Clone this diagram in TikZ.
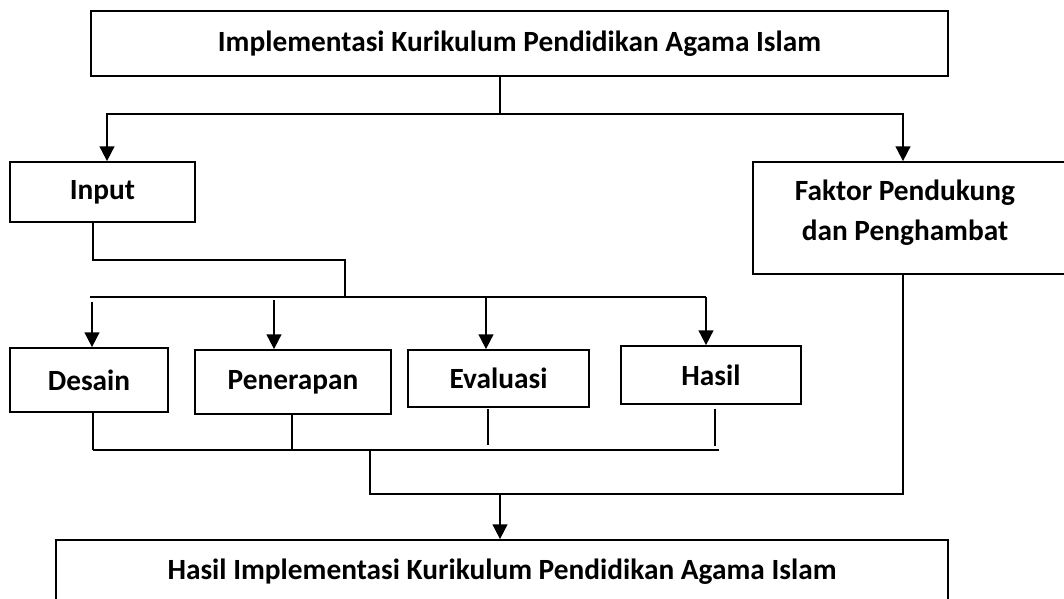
\documentclass[tikz,border=0pt]{standalone}
\usepackage{fontspec}
\setmainfont{Carlito}
\usetikzlibrary{arrows.meta,calc}
\begin{document}
\begin{tikzpicture}[x=0.75pt,y=-0.75pt,
  box/.style={draw,line width=1.3pt,inner sep=0pt,align=center,
    font=\fontsize{22}{30}\selectfont\bfseries},
  ln/.style={line width=1.3pt},
  arr/.style={ln,-{Triangle[width=11pt,length=11pt]}}]
\useasboundingbox (0,0) rectangle (1064,599);
\begin{scope}
\clip (0,0) rectangle (1064,599);
% boxes
\node[box,minimum width=642.75pt,minimum height=48.75pt] (top) at (519.5,43.5) {Implementasi Kurikulum Pendidikan Agama Islam};
\node[box,minimum width=138.75pt,minimum height=45pt] (input) at (102.5,192) {Input};
\node[box,minimum width=237pt,minimum height=84pt,text depth=12pt] (faktor) at (911,218) {Faktor Pendukung\hspace*{9pt}\\dan Penghambat\hspace*{9pt}};
\node[box,minimum width=118.5pt,minimum height=48pt] (desain) at (89,380) {Desain};
\node[box,minimum width=147pt,minimum height=48pt] (penerapan) at (293,382) {Penerapan};
\node[box,minimum width=135.75pt,minimum height=42.75pt] (evaluasi) at (498.5,378.5) {Evaluasi};
\node[box,minimum width=135pt,minimum height=43.5pt] (hasil) at (711,375) {Hasil};
\node[box,minimum width=669pt,minimum height=48pt] (bottom) at (502,572) {Hasil Implementasi Kurikulum Pendidikan Agama Islam};
% helper coordinates
\coordinate (j1) at (500,114);
\coordinate (c107) at (107,0);
\coordinate (c903) at (903,0);
\coordinate (c93) at (93,0);
\coordinate (j2) at (345,260);
\coordinate (b1L) at (90,297);
\coordinate (b1R) at (706,297);
\coordinate (a1) at (92,302);
\coordinate (a2) at (274,300);
\coordinate (a3) at (486,297);
\coordinate (e1) at (93,450);
\coordinate (e2) at (292,450);
\coordinate (e3) at (488,445);
\coordinate (e4) at (715,446);
\coordinate (e5) at (719,450);
\coordinate (j3) at (370,494);
% connectors
\draw[ln] (top.south -| j1) -- (j1);
\draw[arr] (j1) -| (input.north -| c107);
\draw[arr] (j1) -| (faktor.north -| c903);
\draw[ln] (input.south -| c93) |- (j2) -- (j2 |- b1L);
\draw[ln] (b1L) -- (b1R);
\draw[arr] (a1) -- (desain.north -| a1);
\draw[arr] (a2) -- (penerapan.north -| a2);
\draw[arr] (a3) -- (evaluasi.north -| a3);
\draw[arr] (b1R) -- (hasil.north -| b1R);
\draw[ln] (desain.south -| e1) -- (e1);
\draw[ln] (penerapan.south -| e2) -- (e2);
\draw[ln] ([yshift=-1pt]evaluasi.south -| e3) -- (e3);
\draw[ln] ([yshift=-3pt]hasil.south -| e4) -- (e4);
\draw[ln] (e1) -- (e5);
\draw[ln] (faktor.south -| c903) |- (j3) -- (j3 |- e1);
\draw[arr] (j1 |- j3) -- (bottom.north -| j1);
\end{scope}
\end{tikzpicture}
\end{document}
